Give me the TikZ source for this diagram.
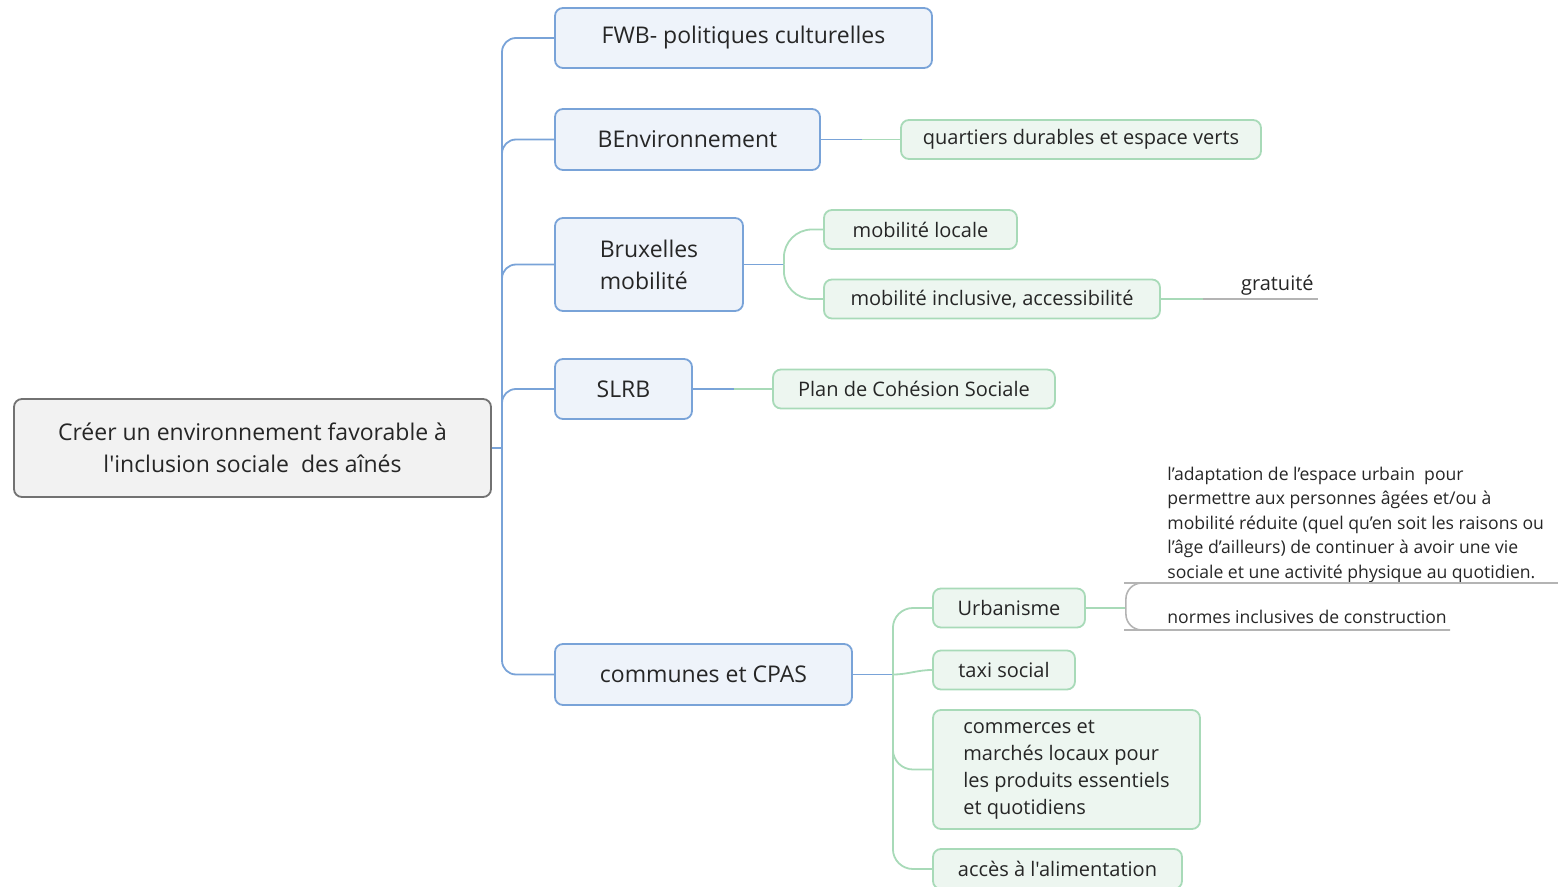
\documentclass[tikz,border=0pt]{standalone}
\usepackage{fontspec}
\setmainfont{Open Sans}[Ligatures=TeXOff]
\usetikzlibrary{positioning,calc}
\definecolor{rootfill}{HTML}{F2F2F2}
\definecolor{rootdraw}{HTML}{727272}
\definecolor{bluefill}{HTML}{EEF3FA}
\definecolor{bluedraw}{HTML}{79A3D8}
\definecolor{greenfill}{HTML}{EDF6F0}
\definecolor{greendraw}{HTML}{A8DAB8}
\definecolor{notegray}{HTML}{B4B4B4}
\definecolor{textgray}{HTML}{262626}
\tikzset{
    mapnode/.style={
        rectangle,
        draw,
        rounded corners=4pt,
        inner sep=2pt,
        align=left,
        text=textgray,
        line width=0.9pt
    },
    rootnode/.style={
        mapnode,
        fill=rootfill,
        draw=rootdraw,
        align=center,
        font=\fontsize{11.5}{16}\selectfont
    },
    topicnode/.style={
        mapnode,
        fill=bluefill,
        draw=bluedraw,
        font=\fontsize{11.5}{16}\selectfont
    },
    subnode/.style={
        mapnode,
        fill=greenfill,
        draw=greendraw,
        font=\fontsize{10}{13.5}\selectfont
    },
    notenode/.style={
        inner xsep=13.5pt,
        inner ysep=1.5pt,
        align=left,
        text=textgray,
        font=\fontsize{8.8}{12.25}\selectfont
    },
    bluelink/.style={draw=bluedraw, line width=0.9pt},
    greenlink/.style={draw=greendraw, line width=0.9pt},
    notelink/.style={draw=notegray, line width=0.8pt}
}
\begin{document}
\begin{tikzpicture}[x=0.5pt,y=-0.5pt]
        \useasboundingbox (0,0) rectangle (1558,887);

        % Root node
        \node[rootnode, minimum width=238.5pt, minimum height=49pt] (root) at (252.5,448)
            {Créer un environnement favorable à\\l'inclusion sociale\ \ des aînés};

        % Main topics
        \node[topicnode, minimum width=188.5pt, minimum height=30pt] (fwb) at (743.5,38) {FWB- politiques culturelles};
        \node[topicnode, minimum width=132.5pt, minimum height=30.5pt] (benv) at (687.5,139.5) {BEnvironnement};
        \node[topicnode, minimum width=94pt, minimum height=46.5pt] (brux) at (649,264.5) {Bruxelles\\mobilité};
        \node[topicnode, minimum width=68.5pt, minimum height=30pt] (slrb) at (623.5,389) {SLRB};
        \node[topicnode, minimum width=148.5pt, minimum height=30.5pt] (comm) at (703.5,674.5) {communes et CPAS};

        % Trunk from root to topics
        \coordinate (rootj) at (502,448);
        \draw[bluelink] (root.east) -- (rootj);
        \foreach \t in {fwb,benv,brux,slrb,comm}
            \draw[bluelink, rounded corners=7pt] (rootj) |- (\t.west);

        % Sub topics
        \node[subnode, minimum width=180pt, minimum height=19.5pt] (quart) at (1081,139.5) {quartiers durables et espace verts};
        \node[subnode, minimum width=96.5pt, minimum height=19.5pt] (mloc) at (920.5,229.5) {mobilité locale};
        \node[subnode, minimum width=168pt, minimum height=19.5pt] (mincl) at (992,299) {mobilité inclusive, accessibilité};
        \node[subnode, minimum width=141pt, minimum height=19.5pt] (pcs) at (914,389) {Plan de Cohésion Sociale};
        \node[subnode, minimum width=76pt, minimum height=19.5pt] (urb) at (1009,608) {Urbanisme};
        \node[subnode, minimum width=71pt, minimum height=19.5pt] (taxi) at (1004,670) {taxi social};
        \node[subnode, minimum width=133.5pt, minimum height=59.5pt] (shops) at (1066.5,769.5)
            {commerces et\\marchés locaux pour\\les produits essentiels\\et quotidiens};
        \node[subnode, minimum width=124.5pt, minimum height=20pt] (food) at (1057.5,869) {accès à l'alimentation};

        % Topic to sub topic connections
        \draw[bluelink] (benv.east) -- ++(41,0) coordinate (benvj);
        \draw[greenlink] (benvj) -- (quart.west);

        \draw[bluelink] (brux.east) -- ++(40,0) coordinate (bruxj);
        \draw[greenlink, rounded corners=14pt] (bruxj) |- (mloc.west);
        \draw[greenlink, rounded corners=14pt] (bruxj) |- (mincl.west);

        \draw[bluelink] (slrb.east) -- ++(41,0) coordinate (slrbj);
        \draw[greenlink] (slrbj) -- (pcs.west);

        \draw[bluelink] (comm.east) -- ++(40,0) coordinate (commj);
        \draw[greenlink, rounded corners=10pt] (commj) |- (urb.west);
        \draw[greenlink] (commj) to[out=0, in=180] (taxi.west);
        \draw[greenlink, rounded corners=10pt] (commj) |- (shops.west);
        \draw[greenlink, rounded corners=10pt] (commj) |- (food.west);

        % Notes
        \node[notenode, font=\fontsize{10}{13.5}\selectfont, anchor=south east, inner xsep=2pt,
            text width=53pt, align=right] (free) at (1318,299) {gratuité};
        \draw[greenlink] (mincl.east) -- (free.south west);
        \draw[notelink] (free.south west) -- (free.south east);

        \node[notenode, anchor=south west, inner ysep=0pt] (adapt) at (1140,583)
            {l’adaptation de l’espace urbain\ \ pour\\permettre aux personnes âgées et/ou à\\mobilité réduite (quel qu’en soit les raisons ou\\l’âge d’ailleurs) de continuer à avoir une vie\\sociale et une activité physique au quotidien.};
        \node[notenode, anchor=south west, inner ysep=3pt] (norms) at (1140,630) {normes inclusives de construction};

        \draw[greenlink] (urb.east) -- ++(40,0) coordinate (urbj);
        \draw[notelink, rounded corners=8pt] (urbj) |- (adapt.south west) -- ++(418,0);
        \draw[notelink, rounded corners=8pt] (urbj) |- (norms.south west) -- ++(310,0);
\end{tikzpicture}
\end{document}
